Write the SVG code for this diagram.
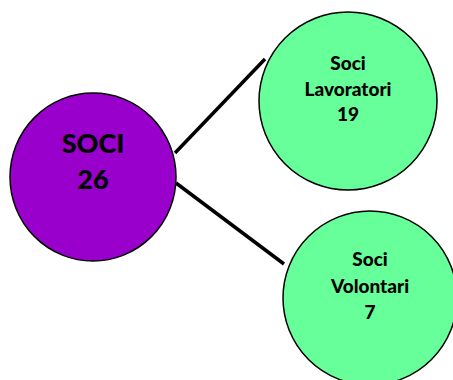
<svg xmlns="http://www.w3.org/2000/svg" width="453" height="380" viewBox="0 0 453 380">
<style>
.node{stroke:#000;stroke-width:1.5}
.purple{fill:#9900CC}
.green{fill:#66FF99}
.conn{stroke:#000;stroke-width:3.5;fill:none}
text{font-family:Lato,"Open Sans","Liberation Sans",sans-serif;font-weight:900;fill:#000;text-anchor:middle;dominant-baseline:central}
.big{font-size:27px}
.small{font-size:19px}
</style>
<rect width="453" height="380" fill="#fff"/>
<g id="connectors">
<line class="conn" x1="175" y1="153" x2="265" y2="59"/>
<line class="conn" x1="176" y1="183" x2="284" y2="264"/>
</g>
<g id="soci">
<ellipse class="node purple" cx="93" cy="177" rx="83" ry="84"/>
<text class="big" x="93" y="142">SOCI</text>
<text class="big" x="93" y="178">26</text>
</g>
<g id="lavoratori">
<circle class="node green" cx="348" cy="101" r="89"/>
<text class="small" x="348" y="62">Soci</text>
<text class="small" x="348" y="88">Lavoratori</text>
<text class="small" x="348" y="113">19</text>
</g>
<g id="volontari">
<circle class="node green" cx="370" cy="298" r="87"/>
<text class="small" x="370" y="258">Soci</text>
<text class="small" x="370" y="285">Volontari</text>
<text class="small" x="370" y="311">7</text>
</g>
</svg>
